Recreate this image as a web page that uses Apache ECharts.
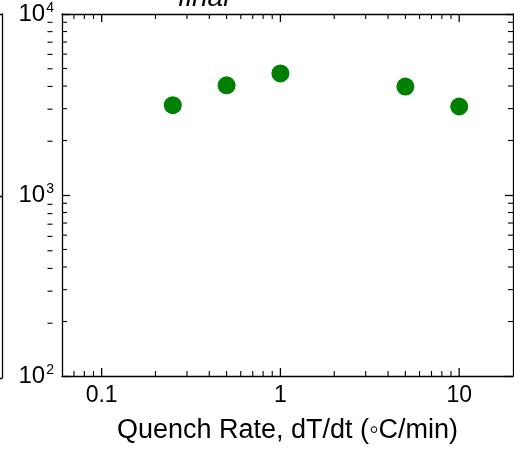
<!DOCTYPE html>
<html>
<head>
<meta charset="utf-8">
<script src="https://cdn.jsdelivr.net/npm/echarts@6/dist/echarts.min.js"></script>
<style>
html,body{margin:0;padding:0;background:#fff;}
#chart{width:514px;height:449px;}
</style>
</head>
<body>
<div id="chart"></div>
<script>
// ---- data ----
const rates = [0.25, 0.5, 1, 5, 10];            // Quench rate (°C/min)
const values = [3135, 4037, 4698, 3970, 3083];   // y values
const xTickValues = [0.1, 1, 10];
const xTickLabels = ['0.1', '1', '10'];
const yTickExponents = [2, 3, 4];
const xMinorTicks = [0.07, 0.08, 0.09, 0.2, 0.3, 0.4, 0.5, 0.6, 0.7, 0.8, 0.9, 2, 3, 4, 5, 6, 7, 8, 9];
const yMinorTicks = [200, 300, 400, 500, 600, 700, 800, 900, 2000, 3000, 4000, 5000, 6000, 7000, 8000, 9000];
const xName = 'Quench Rate, dT/dt (\u25E6C/min)';
const titleFragment = 'final';

const X_MIN = 0.06, X_MAX = 20, Y_MIN = 100, Y_MAX = 10000;
const FONT = 'Liberation Sans, Arial, sans-serif';

const chart = echarts.init(document.getElementById('chart'), null, {renderer: 'canvas'});

function isDecade(v) {
  const l = Math.log10(v);
  return Math.abs(l - Math.round(l)) < 1e-6;
}

const lineStyle = {color: '#000', width: 1.3};
const majorTick = {show: true, inside: true, length: 8, lineStyle: {color: '#000', width: 1.3}};

function minorRender(kind) {
  return function (params, api) {
    const v = api.value(kind === 'y' || kind === 'side' ? 1 : 0);
    const L = 5;
    const st = {stroke: '#000', lineWidth: 1.1};
    if (kind === 'x') {
      const b = api.coord([v, Y_MIN]);
      const t = api.coord([v, Y_MAX]);
      return {type: 'group', children: [
        {type: 'line', shape: {x1: b[0], y1: b[1], x2: b[0], y2: b[1] - L}, style: st},
        {type: 'line', shape: {x1: t[0], y1: t[1], x2: t[0], y2: t[1] + L}, style: st}
      ]};
    } else if (kind === 'y') {
      const l = api.coord([X_MIN, v]);
      const r = api.coord([X_MAX, v]);
      return {type: 'group', children: [
        {type: 'line', shape: {x1: l[0], y1: l[1], x2: l[0] + L, y2: l[1]}, style: st},
        {type: 'line', shape: {x1: r[0], y1: r[1], x2: r[0] - L, y2: r[1]}, style: st}
      ]};
    } else {
      const r = api.coord([1, v]);
      return {type: 'line', shape: {x1: r[0], y1: r[1], x2: r[0] - L, y2: r[1]}, style: st};
    }
  };
}

function xMajorRender(params, api) {
  const v = api.value(0);
  const b = api.coord([v, Y_MIN]);
  const t = api.coord([v, Y_MAX]);
  const st = {stroke: '#000', lineWidth: 1.3};
  return {type: 'group', children: [
    {type: 'line', shape: {x1: b[0], y1: b[1], x2: b[0], y2: b[1] - 8}, style: st},
    {type: 'line', shape: {x1: t[0], y1: t[1], x2: t[0], y2: t[1] + 8}, style: st},
    {type: 'text', x: b[0], y: b[1] + 8, style: {
      text: xTickLabels[params.dataIndex], font: '23px ' + FONT, fill: '#000',
      align: 'center', verticalAlign: 'top'
    }}
  ]};
}

const option = {
  backgroundColor: '#fff',
  animation: false,
  textStyle: {fontFamily: FONT},
  grid: [
    {left: 62, right: 1, top: 14, bottom: 71},
    {left: -200, width: 202, top: 14, bottom: 71}
  ],
  xAxis: [
    {
      type: 'log', logBase: 10, min: X_MIN, max: X_MAX, gridIndex: 0,
      position: 'bottom',
      axisLine: {show: true, lineStyle: lineStyle},
      axisTick: {show: false},
      splitLine: {show: false},
      axisLabel: {show: false},
      name: xName, nameLocation: 'middle', nameGap: 41,
      nameTextStyle: {fontSize: 27, color: '#000', fontFamily: FONT}
    },
    {
      type: 'log', logBase: 10, min: X_MIN, max: X_MAX, gridIndex: 0,
      position: 'top',
      axisLine: {show: true, lineStyle: lineStyle},
      axisTick: {show: false},
      splitLine: {show: false},
      axisLabel: {show: false}
    },
    {type: 'value', min: 0, max: 1, gridIndex: 1, show: false}
  ],
  yAxis: [
    {
      type: 'log', logBase: 10, min: Y_MIN, max: Y_MAX, interval: 1, gridIndex: 0,
      position: 'left',
      axisLine: {show: true, lineStyle: lineStyle},
      axisTick: majorTick,
      splitLine: {show: false},
      axisLabel: {
        margin: 8, color: '#000',
        formatter: function (v) {
          if (!isDecade(v)) return '';
          const e = Math.round(Math.log10(v));
          if (yTickExponents.indexOf(e) < 0) return '';
          return '{b|10}{s|' + e + '}';
        },
        rich: {
          b: {fontSize: 24, fontFamily: FONT, color: '#000', lineHeight: 26},
          s: {fontSize: 14, fontFamily: FONT, color: '#000', verticalAlign: 'top', lineHeight: 26, padding: [0, 0, 10, 1]}
        }
      }
    },
    {
      type: 'log', logBase: 10, min: Y_MIN, max: Y_MAX, interval: 1, gridIndex: 0,
      position: 'right',
      axisLine: {show: true, lineStyle: lineStyle},
      axisTick: majorTick,
      splitLine: {show: false},
      axisLabel: {show: false}
    },
    {
      type: 'log', logBase: 10, min: Y_MIN, max: Y_MAX, interval: 1, gridIndex: 1,
      position: 'right',
      axisLine: {show: true, lineStyle: lineStyle},
      axisTick: majorTick,
      splitLine: {show: false},
      axisLabel: {show: false}
    }
  ],
  graphic: [
    {
      type: 'text', left: 178, top: -16, silent: true,
      style: {text: titleFragment, font: 'italic 28px ' + FONT, fill: '#000'}
    }
  ],
  series: [
    {
      type: 'scatter', xAxisIndex: 0, yAxisIndex: 0,
      data: rates.map((r, i) => [r, values[i]]),
      symbol: 'circle', symbolSize: 18,
      itemStyle: {color: '#008000', opacity: 1}
    },
    {
      type: 'custom', xAxisIndex: 0, yAxisIndex: 0, silent: true, clip: false,
      data: xTickValues.map(v => [v, Y_MIN]),
      renderItem: xMajorRender
    },
    {
      type: 'custom', xAxisIndex: 0, yAxisIndex: 0, silent: true, clip: false,
      data: xMinorTicks.map(v => [v, Y_MIN]),
      renderItem: minorRender('x')
    },
    {
      type: 'custom', xAxisIndex: 0, yAxisIndex: 0, silent: true, clip: false,
      data: yMinorTicks.map(v => [X_MIN, v]),
      renderItem: minorRender('y')
    },
    {
      type: 'custom', xAxisIndex: 2, yAxisIndex: 2, silent: true, clip: false,
      data: yMinorTicks.map(v => [1, v]),
      renderItem: minorRender('side')
    }
  ]
};
chart.setOption(option);
</script>
</body>
</html>
